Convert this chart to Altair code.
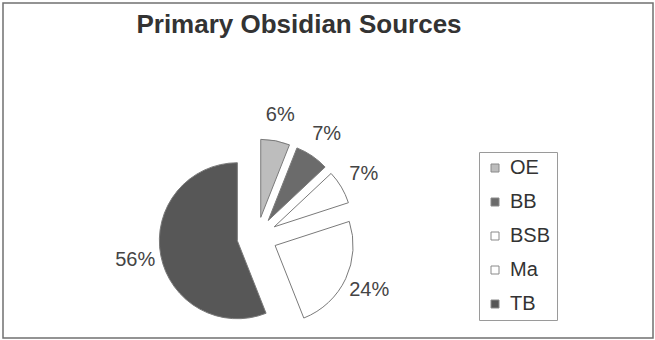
import altair as alt
import pandas as pd

TITLE = "Primary Obsidian Sources"
sources = ["OE", "BB", "BSB", "Ma", "TB"]
shares = [6, 7, 7, 24, 56]
colors = ["#bdbdbd", "#6b6b6b", "#ffffff", "#ffffff", "#575757"]

df = pd.DataFrame({"source": sources, "share": shares, "order": list(range(len(sources)))})

# plot-area coordinates (view starts at padding 3,3)
CX, CY = 254, 234
EXPLODE = 20
RADIUS = 78
LABEL_R = 124

base = (
    alt.Chart(df)
    .transform_window(cum="sum(share)", sort=[alt.SortField("order")], frame=[None, 0])
    .transform_joinaggregate(total="sum(share)")
    .transform_calculate(
        t1="2*PI*datum.cum/datum.total",
        t0="2*PI*(datum.cum-datum.share)/datum.total",
    )
    .transform_calculate(mid="(datum.t0+datum.t1)/2")
    .transform_calculate(
        cx=f"{CX}+{EXPLODE}*sin(datum.mid)",
        cy=f"{CY}-{EXPLODE}*cos(datum.mid)",
        lx=f"{CX}+{LABEL_R}*sin(datum.mid)",
        ly=f"{CY}-{LABEL_R}*cos(datum.mid)",
        label="format(datum.share/datum.total,'.0%')",
    )
)

arcs = base.mark_arc(outerRadius=RADIUS, stroke="#7a7a7a", strokeWidth=1, opacity=1).encode(
    theta=alt.Theta("t0:Q", scale=None, stack=None),
    theta2="t1:Q",
    x=alt.X("cx:Q", scale=None),
    y=alt.Y("cy:Q", scale=None),
    color=alt.Color(
        "source:N",
        scale=alt.Scale(domain=sources, range=colors),
        sort=sources,
        legend=alt.Legend(
            title=None,
            orient="none",
            legendX=476,
            legendY=149,
            strokeColor="#9a9a9a",
            fillColor="white",
            padding=6,
            symbolType="square",
            symbolSize=64,
            symbolStrokeColor="#8a8a8a",
            symbolStrokeWidth=1,
            symbolOffset=0,
            labelFontSize=20,
            labelFont="Liberation Sans",
            labelColor="#333333",
            rowPadding=14,
            labelOffset=5,
        ),
    ),
)

labels = base.mark_text(fontSize=20, font="Liberation Sans", color="#444444").encode(
    x=alt.X("lx:Q", scale=None),
    y=alt.Y("ly:Q", scale=None),
    text="label:N",
)

title = (
    alt.Chart(pd.DataFrame({"t": [TITLE]}))
    .mark_text(fontSize=26, font="Liberation Sans", fontWeight="bold", color="#333333",
               align="center", baseline="alphabetic")
    .encode(x=alt.value(296), y=alt.value(30), text="t:N")
)

chart = (
    alt.layer(arcs, labels, title)
    .properties(
        width=650,
        height=335,
        padding={"left": 3, "top": 3, "right": 2, "bottom": 2},
        autosize=alt.AutoSizeParams(type="none"),
        background="white",
    )
    .configure_view(stroke="#707070", strokeWidth=1.5)
)

chart.save("out.html", embed_options={"renderer": "svg", "actions": False})
